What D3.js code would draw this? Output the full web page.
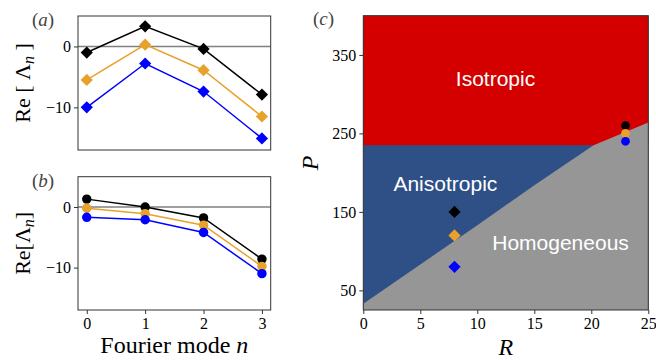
<!DOCTYPE html>
<html>
<head>
<meta charset="utf-8">
<script src="https://cdn.jsdelivr.net/npm/d3@7"></script>
<style>
  body { margin: 0; background: #fff; }
  svg { display: block; }
</style>
</head>
<body>
<div id="viz"></div>
<script>
// Fourier modes for panels (a) and (b)
const modes = [0, 1, 2, 3];

// panel (a): Re[Lambda_n], diamonds
const aBlack = [-1.0, 3.3, -0.4, -7.9];
const aOrange = [-5.5, 0.3, -3.9, -11.5];
const aBlue = [-10.0, -2.8, -7.4, -15.1];

// panel (b): Re[Lambda_n], circles
const bBlack = [1.3, 0.0, -1.8, -8.6];
const bOrange = [-0.2, -1.1, -3.0, -9.8];
const bBlue = [-1.7, -2.1, -4.2, -11.0];

// panel (c): phase diagram
const isoBoundaryP = 235;
const boundaryR = [0, 5, 10, 15, 20.2, 25];
const boundaryP = [33, 83, 133, 184, 235, 264];
const diamondR = [8, 8, 8];
const diamondP = [150, 120, 80];
const circleR = [23, 23, 23];
const circleP = [260, 250, 240];

const seriesColors = ["#000000", "#e8a12b", "#0000ff"];
const regionLabels = [
    { text: "Isotropic", R: 11.6, P: 311 },
    { text: "Anisotropic", R: 7.2, P: 177 },
    { text: "Homogeneous", R: 17.3, P: 101 }
];

const W = 656, H = 360;
const svg = d3.select("#viz").append("svg")
    .attr("width", W)
    .attr("height", H);

const serif = "'Liberation Serif', serif";

function styleTicks(a) {
    a.select(".domain").remove();
    a.selectAll(".tick line").attr("stroke", "#333");
    a.selectAll(".tick text")
        .attr("font-family", serif)
        .attr("font-size", 16)
        .attr("fill", "#000");
}

// shared scales for the two left panels
const xMode = d3.scaleLinear().domain([-0.15, 3.15]).range([78, 270.7]);
const yA = d3.scaleLinear().domain([-17, 5]).range([150, 16]);
const yB = d3.scaleLinear().domain([-17, 5]).range([310, 176.7]);

function drawModePanel(y, series, marker, showX, tag, labelParts) {
    const g = svg.append("g");
    const [x0, x1] = xMode.range();
    const [y1, y0] = y.range();

    // zero line
    g.append("line")
        .attr("x1", x0).attr("x2", x1)
        .attr("y1", y(0)).attr("y2", y(0))
        .attr("stroke", "#808080")
        .attr("stroke-width", 1.5);

    series.forEach((vals, i) => {
        const pts = modes.map((m, j) => [xMode(m), y(vals[j])]);
        g.append("path")
            .attr("d", d3.line()(pts))
            .attr("fill", "none")
            .attr("stroke", seriesColors[i])
            .attr("stroke-width", 1.5);
        const sym = d3.symbol().type(marker === "diamond" ? d3.symbolDiamond2 : d3.symbolCircle)
            .size(marker === "diamond" ? 95 : 70);
        g.selectAll(null)
            .data(pts)
            .enter()
            .append("path")
            .attr("d", sym)
            .attr("transform", d => `translate(${d[0]},${d[1]})`)
            .attr("fill", seriesColors[i]);
    });

    // axes
    g.append("g")
        .attr("transform", `translate(${x0},0)`)
        .call(d3.axisLeft(y).tickValues([0, -10]).tickSize(4).tickPadding(3)
            .tickFormat(d => d < 0 ? "\u2212" + Math.abs(d) : d))
        .call(styleTicks);
    if (showX) {
        g.append("g")
            .attr("transform", `translate(0,${y1})`)
            .call(d3.axisBottom(xMode).tickValues(modes).tickSize(4).tickPadding(4)
                .tickFormat(d3.format("d")))
            .call(styleTicks);
    }

    g.append("rect")
        .attr("x", x0).attr("y", y0)
        .attr("width", x1 - x0).attr("height", y1 - y0)
        .attr("fill", "none")
        .attr("stroke", "#333")
        .attr("stroke-width", 1);

    g.append("text")
        .attr("x", 32).attr("y", y0 + 10)
        .attr("font-family", serif)
        .attr("font-size", 19)
        .attr("fill", "#444")
        .html(tag);

    const lab = g.append("text")
        .attr("transform", `translate(30,${(y0 + y1) / 2}) rotate(-90)`)
        .attr("text-anchor", "middle")
        .attr("font-family", serif)
        .attr("font-size", 22);
    labelParts.forEach(p => {
        const t = lab.append("tspan").text(p.t);
        if (p.sub) t.attr("font-style", "italic").attr("font-size", 16).attr("dy", 4);
        if (p.up) t.attr("dy", -4);
    });
}

drawModePanel(yA, [aBlack, aOrange, aBlue], "diamond", false, "(<tspan font-style='italic'>a</tspan>)",
    [{ t: "Re [ \u039B" }, { t: "n", sub: true }, { t: " ]", up: true }]);
drawModePanel(yB, [bBlack, bOrange, bBlue], "circle", true, "(<tspan font-style='italic'>b</tspan>)",
    [{ t: "Re[\u039B" }, { t: "n", sub: true }, { t: "]", up: true }]);

svg.append("text")
    .attr("x", d3.mean(xMode.range()))
    .attr("y", 353)
    .attr("text-anchor", "middle")
    .attr("font-family", serif)
    .attr("font-size", 24)
    .html("Fourier mode <tspan font-style='italic'>n</tspan>");

// panel (c)
const xR = d3.scaleLinear().domain([0, 25]).range([363.3, 648.3]);
const yP = d3.scaleLinear().domain([25, 400]).range([310, 15.7]);
const c = svg.append("g");
const [cx0, cx1] = xR.range();
const [cy1, cy0] = yP.range();

c.append("rect")
    .attr("x", cx0).attr("y", cy0)
    .attr("width", cx1 - cx0).attr("height", cy1 - cy0)
    .attr("fill", "#2e5087");
c.append("rect")
    .attr("x", cx0).attr("y", cy0)
    .attr("width", cx1 - cx0).attr("height", yP(isoBoundaryP) - cy0)
    .attr("fill", "#d40000");
const boundary = boundaryR.map((r, i) => [r, boundaryP[i]]);
c.append("path")
    .attr("d", d3.area().x(d => xR(d[0])).y0(cy1).y1(d => yP(d[1]))(boundary))
    .attr("fill", "#969696");

const diamond = d3.symbol().type(d3.symbolDiamond2).size(95);
diamondR.forEach((r, i) => {
    c.append("path")
        .attr("d", diamond)
        .attr("transform", `translate(${xR(r)},${yP(diamondP[i])})`)
        .attr("fill", seriesColors[i]);
});
const circle = d3.symbol().type(d3.symbolCircle).size(60);
circleR.forEach((r, i) => {
    c.append("path")
        .attr("d", circle)
        .attr("transform", `translate(${xR(r)},${yP(circleP[i])})`)
        .attr("fill", seriesColors[i]);
});

regionLabels.forEach(l => {
    c.append("text")
        .attr("x", xR(l.R)).attr("y", yP(l.P))
        .attr("text-anchor", "middle")
        .attr("font-family", "'Liberation Sans', Arial, sans-serif")
        .attr("font-size", 21)
        .attr("fill", "#fff")
        .text(l.text);
});

c.append("g")
    .attr("transform", `translate(${cx0},0)`)
    .call(d3.axisLeft(yP).tickValues([50, 150, 250, 350]).tickSize(4).tickPadding(3))
    .call(styleTicks);
c.append("g")
    .attr("transform", `translate(0,${cy1})`)
    .call(d3.axisBottom(xR).tickValues([0, 5, 10, 15, 20, 25]).tickSize(4).tickPadding(4))
    .call(styleTicks);

c.append("rect")
    .attr("x", cx0).attr("y", cy0)
    .attr("width", cx1 - cx0).attr("height", cy1 - cy0)
    .attr("fill", "none")
    .attr("stroke", "#333")
    .attr("stroke-width", 1);

c.append("text")
    .attr("x", 313).attr("y", 25)
    .attr("font-family", serif)
    .attr("font-size", 19)
    .attr("fill", "#444")
    .html("(<tspan font-style='italic'>c</tspan>)");

c.append("text")
    .attr("transform", `translate(318,${(cy0 + cy1) / 2}) rotate(-90)`)
    .attr("text-anchor", "middle")
    .attr("font-family", serif)
    .attr("font-style", "italic")
    .attr("font-size", 24)
    .text("P");
c.append("text")
    .attr("x", (cx0 + cx1) / 2).attr("y", 355)
    .attr("text-anchor", "middle")
    .attr("font-family", serif)
    .attr("font-style", "italic")
    .attr("font-size", 24)
    .text("R");
</script>
</body>
</html>
